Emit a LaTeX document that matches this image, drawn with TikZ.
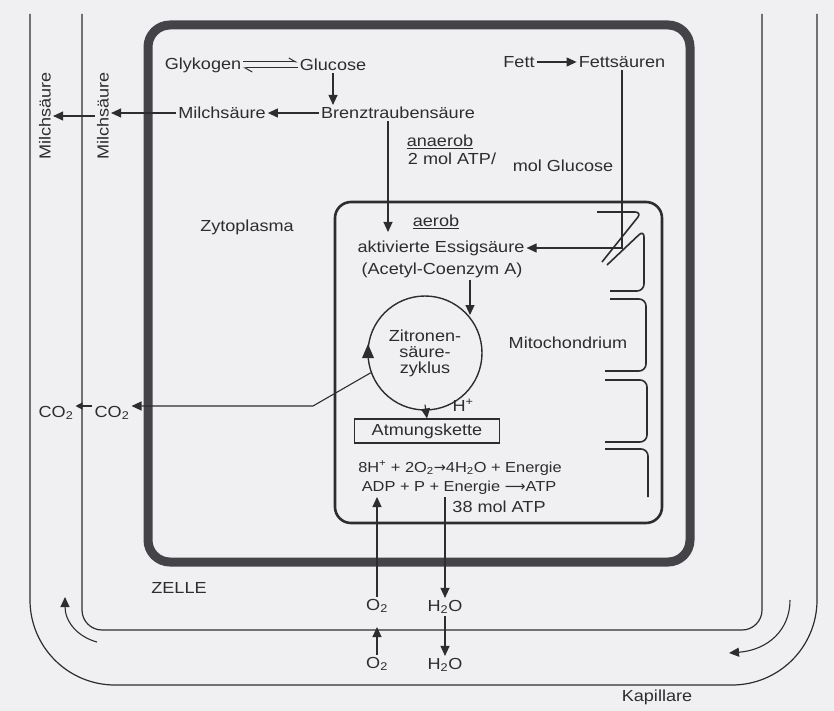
\documentclass[tikz,border=0pt]{standalone}
\usepackage{fontspec}
\setmainfont[FakeStretch=1.13]{Liberation Sans}
\newfontfamily\symfont{DejaVu Sans}
\usetikzlibrary{arrows.meta,calc}
\definecolor{ink}{RGB}{45,45,48}
\definecolor{wall}{RGB}{68,68,72}
\definecolor{paper}{RGB}{240,240,242}
\begin{document}
\begin{tikzpicture}[x=1pt,y=-1pt,
  txt/.style={font=\fontsize{16}{18}\selectfont, text=ink, inner sep=2pt},
  small/.style={font=\fontsize{14.5}{16}\selectfont, text=ink, inner sep=1pt},
  ln/.style={draw=ink, line width=1.1pt},
  arr/.style={ln, -{Triangle[length=10pt,width=9pt]}},
  harp/.style={draw=ink, line width=1pt, -{Straight Barb[left,length=7pt,width=8pt]}},
  membrane/.style={draw=ink, line width=1.6pt, rounded corners=7pt},
  capline/.style={draw=ink, line width=1.2pt}
]
\fill[paper] (0,0) rectangle (834,711);
\useasboundingbox (0,0) rectangle (834,711);

% capillary
\draw[capline, rounded corners=85pt] (30,14) -- (30,685) -- (817,685) -- (817,14);
\draw[capline, rounded corners=20pt] (82,14) -- (82,630) -- (762,630) -- (762,14);

% cell and mitochondrion
\draw[draw=wall, line width=9pt, rounded corners=22pt] (148,25) rectangle (690,562);
\draw[draw=ink, line width=2.6pt, rounded corners=16pt] (335,202) rectangle (662,523);

% cristae
\draw[membrane] (597,212) -- (642,212) -- (602,262);
\draw[membrane] (607,265) -- (644,230) -- (644,291) -- (610,291);
\draw[membrane] (610,299) -- (646,299) -- (646,371) -- (605,371);
\draw[membrane] (605,380) -- (647,380) -- (647,442) -- (605,442);
\draw[membrane] (605,449) -- (648,449) -- (648,497);

% texts
\node[txt] (glyk) at (203,65) {Glykogen};
\node[txt] (gluc) at (333,65) {Glucose};
\node[txt] (brenz) at (398,113) {Brenztraubensäure};
\node[txt] (milch) at (222,113) {Milchsäure};
\node[txt, rotate=90] (milchB) at (103,116) {Milchsäure};
\node[txt, rotate=90] (milchA) at (45,116) {Milchsäure};
\node[txt] (fett) at (519,62) {Fett};
\node[txt] (fettsr) at (622,62) {Fettsäuren};
\node[txt] (anaerob) at (440,142) {\underline{anaerob}};
\node[txt] (atp2) at (452,159) {2 mol ATP/};
\node[txt] (molgl) at (563,166) {mol Glucose};
\node[txt] (zyto) at (247,227) {Zytoplasma};
\node[txt] (aerob) at (436,222) {\underline{aerob}};
\node[txt] (essig1) at (441,248) {aktivierte Essigsäure};
\node[txt] (essig2) at (442,270) {(Acetyl-Coenzym A)};
\node[circle, draw=ink, line width=1.4pt, minimum size=114pt, inner sep=0pt,
      align=center, font=\fontsize{16}{16}\selectfont, text=ink] (zit) at (425,353)
      {Zitronen-\\säure-\\zyklus};
\node[txt] (mito) at (568,343) {Mitochondrium};
\node[txt] (hplus) at (463,405) {H\textsuperscript{+}};
\node[txt, draw=ink, line width=1.1pt, minimum width=145pt, minimum height=24pt,
      inner sep=1pt] (atm) at (427,431) {Atmungskette};
\node[small] (eq1) at (460,468) {8H\textsuperscript{+} + 2O\textsubscript{2}{\symfont →}4H\textsubscript{2}O + Energie};
\node[small] (eq2) at (459,488) {ADP + P + Energie {\symfont ⟶}ATP};
\node[txt] (mol38) at (499,507) {38 mol ATP};
\node[txt] (co2a) at (112,413) {CO\textsubscript{2}};
\node[txt] (co2b) at (56,413) {CO\textsubscript{2}};
\node[txt] (zelle) at (179,588) {ZELLE};
\node[txt] (o2u) at (377,606) {O\textsubscript{2}};
\node[txt] (h2ou) at (445,607) {H\textsubscript{2}O};
\node[txt] (o2l) at (377,664) {O\textsubscript{2}};
\node[txt] (h2ol) at (445,665) {H\textsubscript{2}O};
\node[txt] (kap) at (657,697) {Kapillare};

% coordinates
\coordinate (bdown) at (388,232);
\coordinate (zin) at (470,315);
\coordinate (bend) at (313,406);
\coordinate (o2tip) at (377,497);
\coordinate (h2top) at (445,497);
\coordinate (o2ltip) at (377,627);
\coordinate (lcA) at (97,642);
\coordinate (lcB) at (65,597);
\coordinate (rcA) at (790,600);
\coordinate (rcB) at (729,653);

% connectors
\draw[harp] ([yshift=3pt]glyk.east) -- ([yshift=3pt]gluc.west);
\draw[harp] ([yshift=-3pt]gluc.west) -- ([yshift=-3pt]glyk.east);
\draw[arr] (gluc.south) -- (gluc.south |- brenz.north);
\draw[arr] (brenz.west) -- (milch.east);
\draw[arr] (milch.west) -- (milch.west -| milchB.south);
\draw[arr] (milchB.north) -- (milchA.south);
\draw[arr] (brenz.south -| bdown) -- (bdown);
\draw[arr] (fett.east) -- (fettsr.west);
\draw[arr] (fettsr.south) |- (essig1.east);
\draw[arr] (essig2.south -| zin) -- (zin);
\fill[ink] (362,358) -- (374,358) -- (368,344) -- cycle;
\draw[arr] (zit.200) -- (bend) -- (bend -| co2a.east);
\draw[ln, -{Triangle[length=7pt,width=7pt]}] (bend -| co2a.west) -- (bend -| co2b.east);
\draw[arr] ([yshift=6pt]zit.south) -- (atm.north);
\draw[arr] (o2u.north) -- (o2tip);
\draw[arr] (h2top) -- (h2ou.north);
\draw[arr] (o2l.north) -- (o2ltip);
\draw[arr] (h2ou.south) -- (h2ol.north);
\draw[arr] (lcA) .. controls (78,637) and (65,622) .. (lcB);
\draw[arr] (rcA) .. controls (790,630) and (768,650) .. (rcB);
\end{tikzpicture}
\end{document}
